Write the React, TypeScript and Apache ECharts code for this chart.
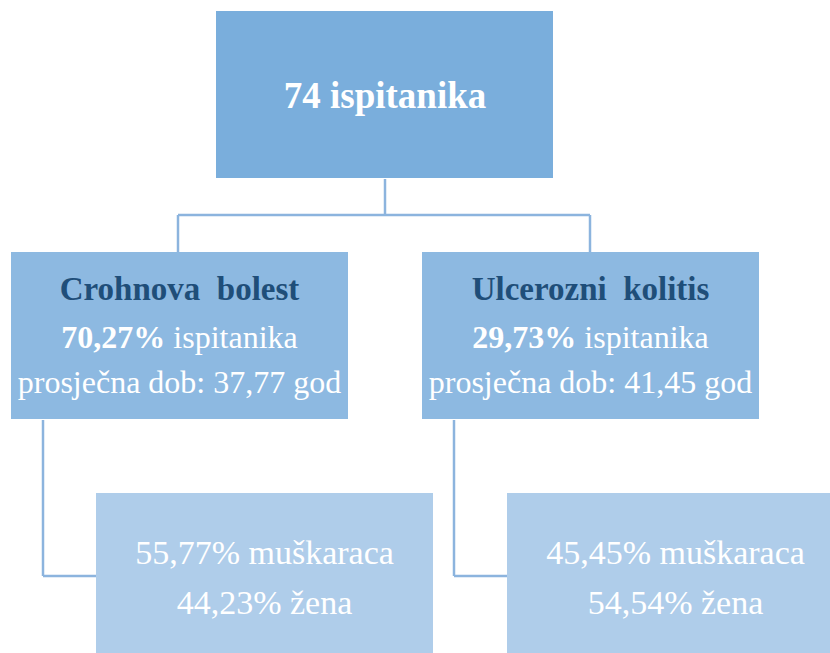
import React, { useEffect, useRef } from "react";
import * as echarts from "echarts";

// ---- data ----
const totalSubjects = 74;
const groupNames = ["Crohnova bolest", "Ulcerozni kolitis"];
const groupShares = ["70,27%", "29,73%"];
const groupAges = ["37,77", "41,45"];
const malePct = ["55,77%", "45,45%"];
const femalePct = ["44,23%", "54,54%"];

const FONT = "Liberation Serif";
const C_TOP = "#7aaedc";
const C_MID = "#8db9e1";
const C_BOT = "#afcdea";
const C_LINE = "#8cb4de";
const C_TITLE = "#1f4e79";

export default function App() {
  const ref = useRef<HTMLDivElement>(null);
  useEffect(() => {
    if (!ref.current) return;
    const chart = echarts.init(ref.current, null, { renderer: "svg" });
    const els: any[] = [];
    const line = (x1: number, y1: number, x2: number, y2: number) =>
      els.push({
        type: "line",
        shape: { x1, y1, x2, y2 },
        style: { stroke: C_LINE, lineWidth: 2.5 },
      });
    const rect = (x: number, y: number, w: number, h: number, fill: string) =>
      els.push({ type: "rect", shape: { x, y, width: w, height: h }, style: { fill } });
    const text = (x: number, y: number, t: string, size: number, bold: boolean, color = "#fff") =>
      els.push({
        type: "text",
        x,
        y,
        style: {
          text: t,
          fill: color,
          fontFamily: FONT,
          fontSize: size,
          fontWeight: bold ? "bold" : "normal",
          align: "center",
          verticalAlign: "middle",
        },
      });

    // connectors
    line(385, 179, 385, 215);
    line(178, 215, 590, 215);
    line(178, 215, 178, 252);
    line(590, 215, 590, 252);

    // root
    rect(216, 11, 337, 167, C_TOP);
    text(385, 95, `${totalSubjects} ispitanika`, 37, true);

    const midX = [11, 422];
    const botX = [96, 507];
    groupNames.forEach((name, i) => {
      const mx = midX[i];
      const bx = botX[i];
      // connector to bottom box
      line(mx + 32, 420, mx + 32, 576);
      line(mx + 32, 576, bx, 576);
      rect(mx, 252, 337, 167, C_MID);
      const cx = mx + 168.5;
      text(cx, 289, name.replace(" ", "  "), 33, true, C_TITLE);
      els.push({
        type: "text",
        x: cx,
        y: 337,
        style: {
          text: `{b|${groupShares[i]}} {n|ispitanika}`,
          fill: "#fff",
          fontFamily: FONT,
          fontSize: 32,
          align: "center",
          verticalAlign: "middle",
          rich: {
            b: { fontFamily: FONT, fontSize: 32, fontWeight: "bold", fill: "#fff" },
            n: { fontFamily: FONT, fontSize: 32, fontWeight: "normal", fill: "#fff" },
          },
        },
      });
      text(cx, 382, `prosječna dob: ${groupAges[i]} god`, 32, false);
      rect(bx, 493, 337, 170, C_BOT);
      const bcx = bx + 168.5;
      text(bcx, 552, `${malePct[i]} muškaraca`, 34, false);
      text(bcx, 602, `${femalePct[i]} žena`, 34, false);
    });

    chart.setOption({ animation: false, graphic: { elements: els } });
    return () => chart.dispose();
  }, []);
  return (
    <div
      ref={ref}
      style={{ position: "fixed", left: 0, top: 0, width: 830, height: 653, background: "#fff" }}
    />
  );
}
